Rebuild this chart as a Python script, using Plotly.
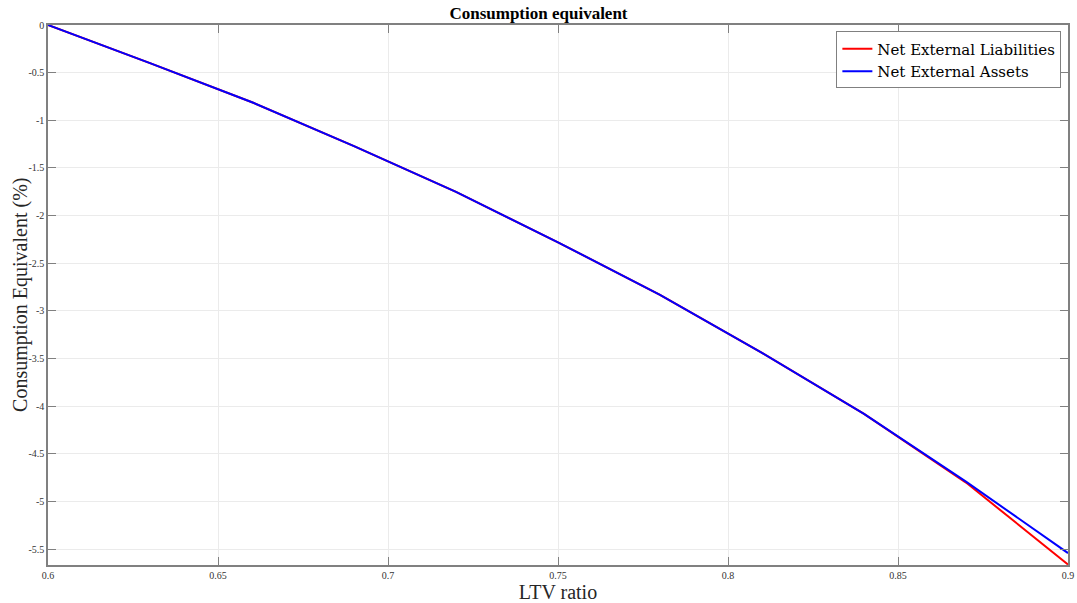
import plotly.graph_objects as go

# LTV ratio grid and consumption-equivalent welfare (%)
ltv = [0.60, 0.63, 0.66, 0.69, 0.72, 0.75, 0.78, 0.81, 0.84, 0.87, 0.90]
net_liabilities = [0.0, -0.40, -0.81, -1.27, -1.75, -2.28, -2.83, -3.44, -4.08, -4.80, -5.66]
net_assets = [0.0, -0.40, -0.81, -1.27, -1.75, -2.28, -2.83, -3.44, -4.08, -4.79, -5.54]

x_ticks = [0.6, 0.65, 0.7, 0.75, 0.8, 0.85, 0.9]
x_tick_text = ["0.6", "0.65", "0.7", "0.75", "0.8", "0.85", "0.9"]
y_ticks = [0, -0.5, -1, -1.5, -2, -2.5, -3, -3.5, -4, -4.5, -5, -5.5]
y_tick_text = ["0", "-0.5", "-1", "-1.5", "-2", "-2.5", "-3", "-3.5", "-4", "-4.5", "-5", "-5.5"]

serif = "Liberation Serif, DejaVu Serif, serif"

fig = go.Figure()
fig.add_trace(go.Scatter(x=ltv, y=net_liabilities, mode="lines",
                         name="Net External Liabilities",
                         line=dict(color="#ff0000", width=2)))
fig.add_trace(go.Scatter(x=ltv, y=net_assets, mode="lines",
                         name="Net External Assets",
                         line=dict(color="#0000ff", width=2)))

axis_common = dict(
    automargin=False,
    showline=True, linecolor="#808080", linewidth=1.5, mirror="ticks",
    ticks="inside", ticklen=8, tickcolor="#808080", tickwidth=1,
    showgrid=True, gridcolor="#ebebeb", gridwidth=1,
    zeroline=False,
    tickfont=dict(family=serif, size=10, color="#333333"),
)

fig.update_layout(
    width=1077, height=603,
    margin=dict(l=48, r=9, t=25, b=38),
    paper_bgcolor="white", plot_bgcolor="white",
    title=dict(text="<b>Consumption equivalent</b>", x=0.5, xanchor="center",
               y=0.978, yanchor="middle",
               font=dict(family=serif, size=17, color="black")),
    xaxis=dict(range=[0.6, 0.9], tickvals=x_ticks, ticktext=x_tick_text,
               title=dict(text="LTV ratio", standoff=6,
                          font=dict(family=serif, size=20, color="#262626")),
               **axis_common),
    yaxis=dict(range=[-5.665, 0], tickvals=y_ticks, ticktext=y_tick_text,
               **axis_common),
    legend=dict(x=0.9935, y=0.988, xanchor="right", yanchor="top",
                bgcolor="white", bordercolor="#808080", borderwidth=1,
                font=dict(family="DejaVu Serif, serif", size=15, color="black"),
                tracegroupgap=0, itemwidth=30),
    showlegend=True,
)

# y-axis title placed as rotated text beside the tick labels
fig.add_annotation(text="Consumption Equivalent (%)", xref="paper", yref="paper",
                   x=-0.0275, y=0.5, xanchor="center", yanchor="middle",
                   textangle=-90, showarrow=False,
                   font=dict(family=serif, size=20, color="#262626"))

fig.write_html("out.html")
